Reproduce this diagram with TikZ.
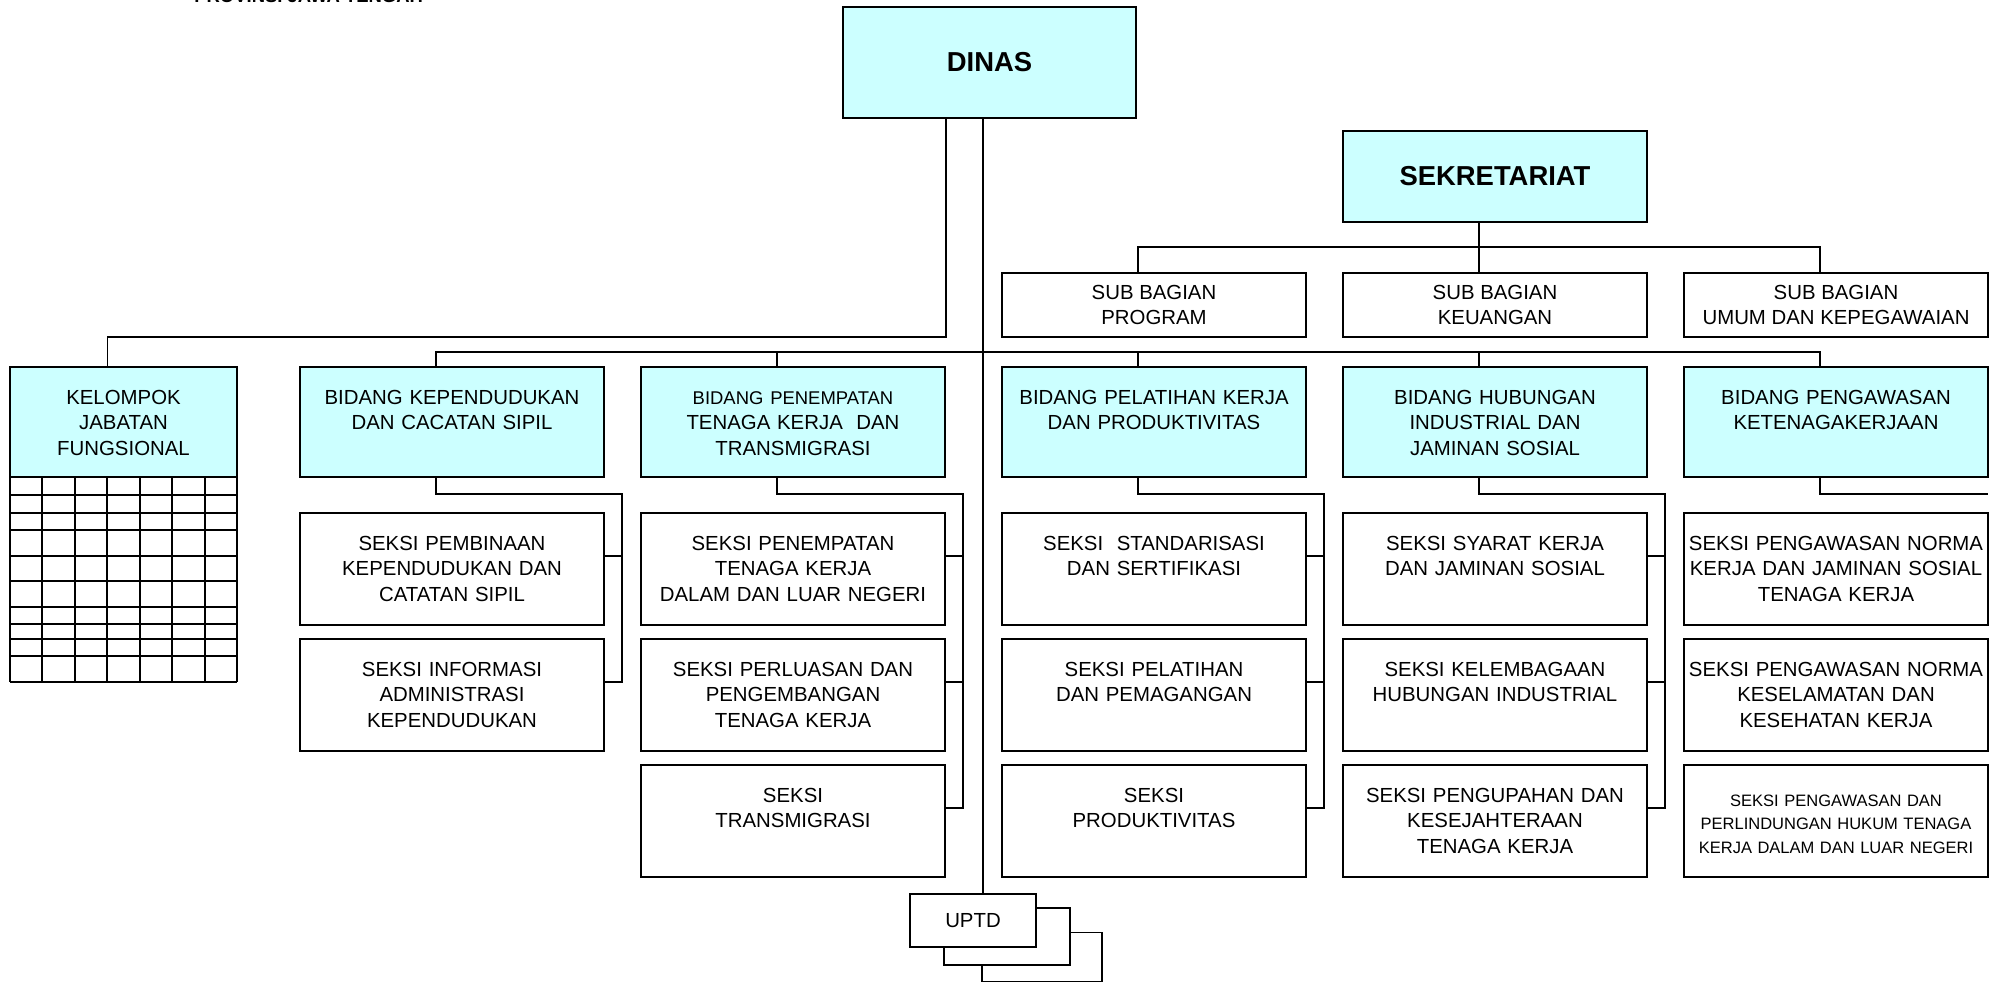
\documentclass[tikz,border=0pt]{standalone}
\usepackage{fontspec}
\setmainfont{Liberation Sans}
\usepackage{xcolor}
\usepackage{tikz}
\usetikzlibrary{positioning}

\definecolor{birumuda}{RGB}{204,255,255}

\begin{document}
\begin{tikzpicture}[node distance=2.8mm and 7.4mm, font=\fontsize{11.6}{14.5}\selectfont,
        kotak/.style={draw, rectangle, line width=1.1pt, inner sep=0pt, outer sep=0pt, align=center, minimum width=60.8mm},
        kepala/.style={kotak, fill=birumuda, font=\bfseries\fontsize{15.6}{18}\selectfont},
        bidang/.style={kotak, fill=birumuda, text width=60.8mm, minimum height=22mm, text height=7.5mm, text depth=14.5mm},
        seksi/.style={kotak, text width=60.8mm, minimum height=22.4mm, text height=7.5mm, text depth=14.9mm},
        subbag/.style={kotak, minimum height=12.8mm},
        uptdbox/.style={kotak, fill=white, minimum width=25.2mm, minimum height=10.6mm},
        garis/.style={line width=1.1pt}]
        \useasboundingbox (0,0) rectangle (400.6mm,-196.6mm);

        % judul (terpotong di tepi atas)
        \node[anchor=base west, inner sep=0pt, font=\bfseries\fontsize{10.5}{12}\selectfont] (judul) at (38.8mm,-0.6mm) {PROVINSI JAWA TENGAH};

        % Kepala dinas
        \node[kepala, minimum width=58.6mm, minimum height=22.2mm] (dinas) at (197.9mm,-12.5mm) {DINAS};

        % Bidang
        \node[bidang, text width=45.4mm, minimum width=45.4mm, anchor=north west] (kelompok) at (2mm,-73.4mm) {KELOMPOK\\JABATAN\\FUNGSIONAL};
        \node[bidang, right=12.6mm of kelompok] (kependudukan) {BIDANG KEPENDUDUKAN\\DAN CACATAN SIPIL};
        \node[bidang, right=7.4mm of kependudukan] (penempatan) {{\fontsize{10.5}{14.5}\selectfont BIDANG PENEMPATAN}\\TENAGA KERJA~~DAN\\TRANSMIGRASI};
        \node[bidang, right=11.4mm of penempatan] (pelatihan) {BIDANG PELATIHAN KERJA\\DAN PRODUKTIVITAS};
        \node[bidang, right=7.4mm of pelatihan] (hubungan) {BIDANG HUBUNGAN\\INDUSTRIAL DAN\\JAMINAN SOSIAL};
        \node[bidang, right=7.4mm of hubungan] (pengawasan) {BIDANG PENGAWASAN\\KETENAGAKERJAAN};

        % Sekretariat dan sub bagian
        \node[subbag, above=6mm of pelatihan] (program) {SUB BAGIAN\\PROGRAM};
        \node[subbag, above=6mm of hubungan] (keuangan) {SUB BAGIAN\\KEUANGAN};
        \node[subbag, above=6mm of pengawasan] (umum) {SUB BAGIAN\\UMUM DAN KEPEGAWAIAN};
        \node[kepala, minimum height=18.2mm, above=10.2mm of keuangan] (sekretariat) {SEKRETARIAT};

        % Seksi
        \node[seksi, below=7.2mm of kependudukan] (kp1) {SEKSI PEMBINAAN\\KEPENDUDUKAN DAN\\CATATAN SIPIL};
        \node[seksi, below=of kp1] (kp2) {SEKSI INFORMASI\\ADMINISTRASI\\KEPENDUDUKAN};
        \node[seksi, below=7.2mm of penempatan] (pt1) {SEKSI PENEMPATAN\\TENAGA KERJA\\DALAM DAN LUAR NEGERI};
        \node[seksi, below=of pt1] (pt2) {SEKSI PERLUASAN DAN\\PENGEMBANGAN\\TENAGA KERJA};
        \node[seksi, below=of pt2] (pt3) {SEKSI\\TRANSMIGRASI};
        \node[seksi, below=7.2mm of pelatihan] (pl1) {SEKSI~~STANDARISASI\\DAN SERTIFIKASI};
        \node[seksi, below=of pl1] (pl2) {SEKSI PELATIHAN\\DAN PEMAGANGAN};
        \node[seksi, below=of pl2] (pl3) {SEKSI\\PRODUKTIVITAS};
        \node[seksi, below=7.2mm of hubungan] (hb1) {SEKSI SYARAT KERJA\\DAN JAMINAN SOSIAL};
        \node[seksi, below=of hb1] (hb2) {SEKSI KELEMBAGAAN\\HUBUNGAN INDUSTRIAL};
        \node[seksi, below=of hb2] (hb3) {SEKSI PENGUPAHAN DAN\\KESEJAHTERAAN\\TENAGA KERJA};
        \node[seksi, below=7.2mm of pengawasan] (pw1) {SEKSI PENGAWASAN NORMA\\KERJA DAN JAMINAN SOSIAL\\TENAGA KERJA};
        \node[seksi, below=of pw1] (pw2) {SEKSI PENGAWASAN NORMA\\KESELAMATAN DAN\\KESEHATAN KERJA};
        \node[seksi, below=of pw2, font=\fontsize{9.4}{13.6}\selectfont, text height=8.2mm, text depth=14.2mm] (pw3) {SEKSI PENGAWASAN DAN\\PERLINDUNGAN HUKUM TENAGA\\KERJA DALAM DAN LUAR NEGERI};

        % UPTD bertumpuk
        \node[uptdbox, minimum width=24mm, minimum height=9.8mm] (uptd3) at (208.4mm,-191.4mm) {};
        \node[uptdbox, minimum height=11.4mm] (uptd2) at (201.4mm,-187.3mm) {};
        \node[uptdbox] (uptd) at (194.6mm,-184.1mm) {UPTD};

        % titik sambung
        \foreach \b in {kelompok,kependudukan,penempatan,pelatihan,hubungan,pengawasan,program,keuangan,umum,sekretariat} {
            \coordinate (\b-in) at ([xshift=-3.2mm]\b.north);
            \coordinate (\b-out) at ([xshift=-3.2mm]\b.south);
        }
        \coordinate (trunk) at ([xshift=-1.3mm]dinas.south);

        % Garis dari dinas
        \draw[garis] ([xshift=-8.7mm]dinas.south) |- ([yshift=6mm]kelompok-in) -- (kelompok-in);
        \draw[garis] (trunk) -- (trunk |- uptd.north);
        \draw[garis] (kependudukan-in) -- ++(0,3mm) -| (pengawasan-in);
        \foreach \b in {penempatan,pelatihan,hubungan}
            \draw[garis] (\b-in) -- ++(0,3mm);

        % Sekretariat ke sub bagian
        \draw[garis] (sekretariat-out) -- (keuangan-in);
        \draw[garis] (program-in) -- ++(0,5.2mm) -| (umum-in);

        % Bidang ke seksi
        \foreach \b/\s in {kependudukan/kp2,penempatan/pt3,pelatihan/pl3,hubungan/hb3}
            \draw[garis] (\b-out) -- ++(0,-3.4mm) -| ([xshift=3.6mm,yshift=2.6mm]\s.east) -- ([yshift=2.6mm]\s.east);
        \foreach \s in {kp1,pt1,pt2,pl1,pl2,hb1,hb2}
            \draw[garis] ([yshift=2.6mm]\s.east) -- ++(3.6mm,0);
        \draw[garis] (pengawasan-out) |- ([yshift=-3.4mm]pengawasan.south east);

        % Tabel di bawah kelompok jabatan fungsional
        \foreach \i in {0,...,7}
            \draw[garis] ([xshift=\i*6.486mm]kelompok.south west) -- ++(0,-41mm);
        \foreach \d in {3.6mm,7.2mm,10.6mm,15.8mm,20.8mm,26mm,29.4mm,32.4mm,35.8mm,41mm}
            \draw[garis] ([yshift=-\d]kelompok.south west) -- ++(45.4mm,0);

    \end{tikzpicture}
\end{document}
